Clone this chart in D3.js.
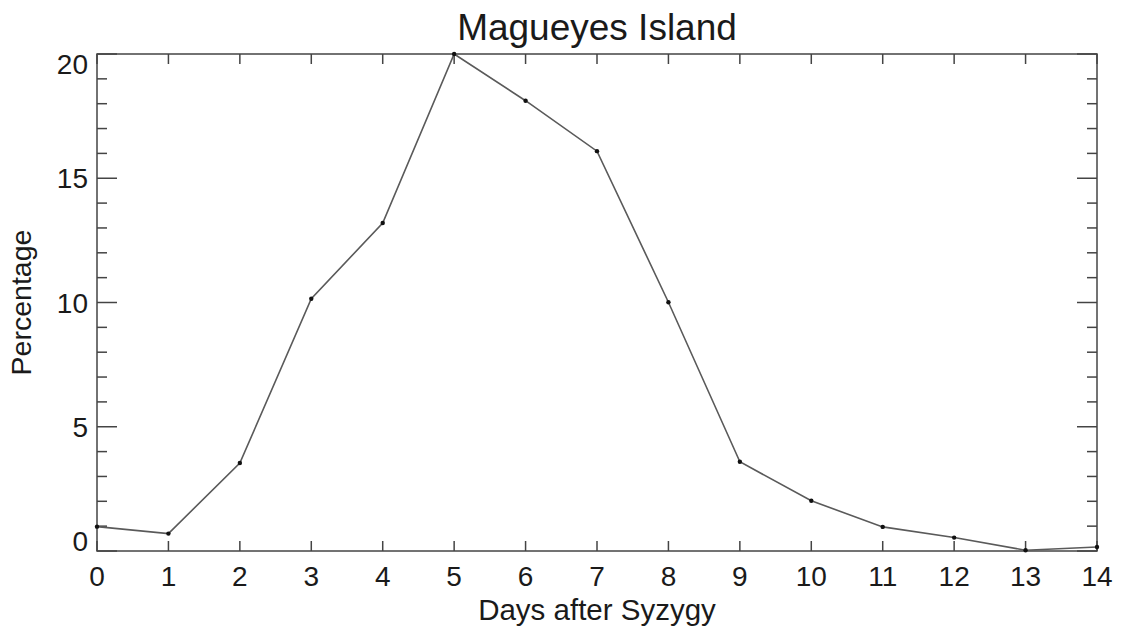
<!DOCTYPE html>
<html>
<head>
<meta charset="utf-8">
<script src="https://cdn.jsdelivr.net/npm/d3@7"></script>
<style>
  html, body { margin: 0; padding: 0; background: #fff; }
  svg { display: block; }
  text { font-family: "Liberation Sans", Arial, sans-serif; fill: #1a1a1a; }
</style>
</head>
<body>
<svg id="chart" width="1123" height="632"></svg>
<script>
// Share of events by day after syzygy at Magueyes Island
const days = [0, 1, 2, 3, 4, 5, 6, 7, 8, 9, 10, 11, 12, 13, 14];
const percentages = [0.98, 0.7, 3.54, 10.15, 13.2, 20.0, 18.12, 16.09, 10.01, 3.59, 2.02, 0.97, 0.54, 0.03, 0.16];
const xTicks = [0, 1, 2, 3, 4, 5, 6, 7, 8, 9, 10, 11, 12, 13, 14];
const yMajorTicks = [0, 5, 10, 15, 20];
const yMinorTicks = d3.range(0, 21, 1).filter(v => v % 5 !== 0);

const chartTitle = "Magueyes Island";
const xTitle = "Days after Syzygy";
const yTitle = "Percentage";

const svg = d3.select("#chart");
const plotLeft = 97, plotRight = 1097, plotTop = 54, plotBottom = 551;

const x = d3.scaleLinear().domain([0, 14]).range([plotLeft, plotRight]);
const y = d3.scaleLinear().domain([0, 20]).range([plotBottom, plotTop]);

const axisColor = "#444";
const tickFont = 28;

// Frame
svg.append("rect")
  .attr("x", plotLeft).attr("y", plotTop)
  .attr("width", plotRight - plotLeft).attr("height", plotBottom - plotTop)
  .attr("fill", "none").attr("stroke", axisColor).attr("stroke-width", 1.5);

// X ticks on bottom and top edges
const xt = svg.append("g").attr("stroke", axisColor).attr("stroke-width", 1.5);
xTicks.forEach(d => {
  xt.append("line").attr("x1", x(d)).attr("x2", x(d)).attr("y1", plotBottom).attr("y2", plotBottom - 10);
  xt.append("line").attr("x1", x(d)).attr("x2", x(d)).attr("y1", plotTop).attr("y2", plotTop + 10);
});

// Y ticks on left and right edges (major long, minor short)
const yt = svg.append("g").attr("stroke", axisColor).attr("stroke-width", 1.5);
yMajorTicks.forEach(v => {
  yt.append("line").attr("x1", plotLeft).attr("x2", plotLeft + 20).attr("y1", y(v)).attr("y2", y(v));
  yt.append("line").attr("x1", plotRight).attr("x2", plotRight - 20).attr("y1", y(v)).attr("y2", y(v));
});
yMinorTicks.forEach(v => {
  yt.append("line").attr("x1", plotLeft).attr("x2", plotLeft + 10).attr("y1", y(v)).attr("y2", y(v));
  yt.append("line").attr("x1", plotRight).attr("x2", plotRight - 10).attr("y1", y(v)).attr("y2", y(v));
});

// X tick labels
svg.append("g").selectAll("text").data(xTicks).join("text")
  .attr("x", d => x(d)).attr("y", 586)
  .attr("text-anchor", "middle")
  .attr("font-size", tickFont)
  .text(d => d);

// Y tick labels, kept inside the frame's vertical extent
const cap = tickFont * 0.716;
svg.append("g").selectAll("text").data(yMajorTicks).join("text")
  .attr("x", 88)
  .attr("y", v => Math.min(plotBottom, Math.max(plotTop + cap, y(v) + cap / 2)))
  .attr("text-anchor", "end")
  .attr("font-size", tickFont)
  .text(v => v);

// Titles
svg.append("text").attr("x", (plotLeft + plotRight) / 2).attr("y", 40)
  .attr("text-anchor", "middle").attr("font-size", 37).text(chartTitle);
svg.append("text").attr("x", 597).attr("y", 620)
  .attr("text-anchor", "middle").attr("font-size", 29.5).text(xTitle);
svg.append("text")
  .attr("transform", `translate(31,${(plotTop + plotBottom) / 2}) rotate(-90)`)
  .attr("text-anchor", "middle").attr("font-size", 28.5).text(yTitle);

// Data line and points
const line = d3.line().x((d, i) => x(days[i])).y(d => y(d));
svg.append("path").datum(percentages)
  .attr("d", line)
  .attr("fill", "none").attr("stroke", "#5a5a5a").attr("stroke-width", 1.6);

svg.append("g").selectAll("circle").data(percentages).join("circle")
  .attr("cx", (d, i) => x(days[i])).attr("cy", d => y(d))
  .attr("r", 2.2).attr("fill", "#111");
</script>
</body>
</html>
